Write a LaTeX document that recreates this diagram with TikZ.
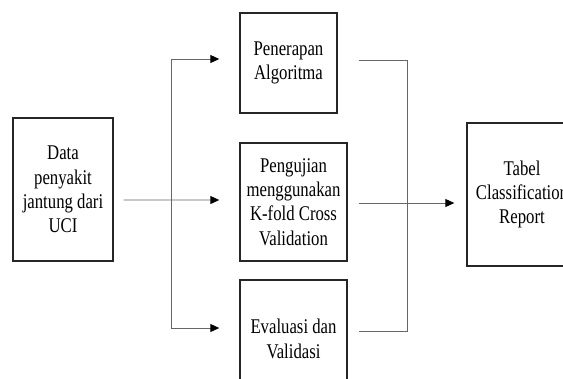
\documentclass[tikz,border=0pt]{standalone}
\usepackage{fontspec}
\setmainfont{Liberation Serif}[FakeStretch=0.8]
\usetikzlibrary{positioning,arrows.meta,calc}

\begin{document}
\begin{tikzpicture}[
  x=1bp,y=-1bp,
  font=\fontsize{21}{24.5}\selectfont,>={Triangle[length=9bp,width=8bp,color=black]},
  blk/.style={draw=black!85,line width=1.4bp,align=center,inner sep=1bp},
  lin/.style={draw=gray!80!black,line width=0.9bp},
  arr/.style={lin,->},
]
\useasboundingbox (0,0) rectangle (563,378);
\clip (0,0) rectangle (563,378);

% input data (left)
\node[blk,minimum width=100bp,minimum height=143bp] (data) at (63,189.5) {Data\\penyakit\\jantung dari\\UCI};

% process column (centre)
\node[blk,minimum width=97bp,minimum height=100bp]  (terap) at (288.5,63) {Penerapan\\Algoritma};
\node[blk,minimum width=107bp,minimum height=118bp] (uji)   at (293.5,202) {Pengujian\\menggunakan\\K-fold Cross\\Validation};
\node[blk,minimum width=107bp,minimum height=118bp] (eval)  at (293.5,339) {Evaluasi dan\\Validasi};

% output (right)
\node[blk,minimum width=110bp,minimum height=143bp] (tabel) at (522,194.5) {Tabel\\Classification\\Report};

% fan out
\coordinate (in0) at ($(data.east)+(10,10.5)$);
\coordinate (splt) at (171,200);
\draw[arr] (in0) -- ([xshift=-20bp]uji.west |- splt);
\draw[lin] (171,59) -- (171,328);
\draw[arr] (171,59) -- ([xshift=-20bp]terap.west |- 0,59);
\draw[arr] (171,328) -- ([xshift=-20bp]eval.west |- 0,328);

% fan in
\draw[lin] ([xshift=11bp]uji.east |- 0,60) -- (407,60) -- (407,331) -- ([xshift=11bp]uji.east |- 0,331);
\draw[arr] ([xshift=11bp]uji.east |- 0,203) -- ([xshift=-12bp]tabel.west |- 0,203);
\end{tikzpicture}
\end{document}
